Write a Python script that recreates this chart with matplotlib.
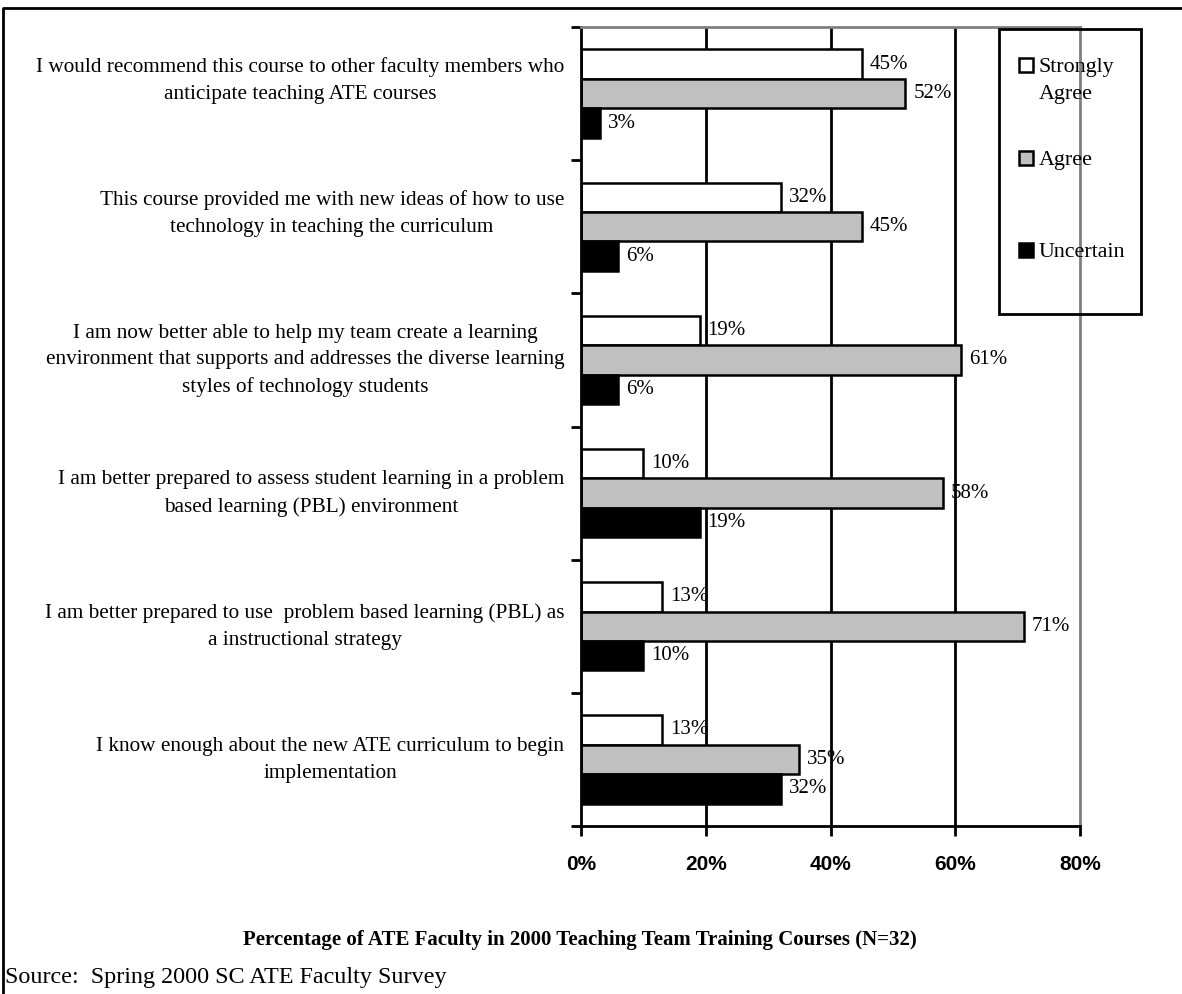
import numpy as np
import matplotlib.pyplot as plt
from matplotlib.patches import Rectangle
from matplotlib.lines import Line2D
from matplotlib.transforms import ScaledTranslation

# trailing newline on the first two keeps Excel's upward offset of those labels
statements = [
    "I would recommend this course to other faculty members who\nanticipate teaching ATE courses\n",
    "This course provided me with new ideas of how to use\ntechnology in teaching the curriculum\n",
    "I am now better able to help my team create a learning\nenvironment that supports and addresses the diverse learning\nstyles of technology students",
    "I am better prepared to assess student learning in a problem\nbased learning (PBL) environment",
    "I am better prepared to use  problem based learning (PBL) as\na instructional strategy",
    "I know enough about the new ATE curriculum to begin\nimplementation",
]
strongly_agree = [45, 32, 19, 10, 13, 13]
agree = [52, 45, 61, 58, 71, 35]
uncertain = [3, 6, 6, 19, 10, 32]
series_names = ["Strongly\nAgree", "Agree", "Uncertain"]
x_ticks = [0, 20, 40, 60, 80]

SERIF = "Liberation Serif"
SANS = "Liberation Sans"
W, H = 1182, 994


def fx(px):
    return px / W


def fy(px):
    return 1 - px / H


fig = plt.figure(figsize=(W / 100, H / 100), dpi=100)
ax = fig.add_axes([fx(581), fy(826), fx(1080 - 581), (826 - 27) / H])

n = len(statements)
y = np.arange(n)
h = 0.221
colors = ["white", "#c0c0c0", "black"]
series = [strongly_agree, agree, uncertain]

# vertical gridlines behind the bars
for t in x_ticks[1:-1]:
    ax.axvline(t, color="black", lw=2, zorder=0)

for k, (vals, col) in enumerate(zip(series, colors)):
    pos = y + (k - 1) * h
    ax.barh(pos, vals, height=h, color=col, edgecolor="black", lw=1.8, zorder=2)
    for v, p in zip(vals, pos):
        ax.annotate(f"{v}%", xy=(v, p), xytext=(8, 0), textcoords="offset pixels",
                    va="center", ha="left", fontsize=15, family=SERIF, zorder=3)

ax.set_xlim(0, 80)
ax.set_ylim(n - 0.5, -0.5)

for s in ["left", "bottom"]:
    ax.spines[s].set_color("black")
    ax.spines[s].set_linewidth(2)
for s in ["top", "right"]:
    ax.spines[s].set_color("#808080")
    ax.spines[s].set_linewidth(2)

ax.set_xticks(x_ticks)
ax.set_xticklabels([f"{t}%" for t in x_ticks], fontsize=15, fontweight="bold", family=SANS)
ax.tick_params(axis="x", direction="out", length=7, width=2, pad=14)

# tick marks between categories, labels at category centres
ax.set_yticks(np.arange(n + 1) - 0.5)
ax.set_yticklabels([])
ax.tick_params(axis="y", which="major", direction="out", length=7, width=2)
ax.set_yticks(y, minor=True)
ax.set_yticklabels(statements, minor=True, fontsize=15.3, family=SERIF,
                   multialignment="center", linespacing=1.55)
ax.tick_params(axis="y", which="minor", length=0, pad=12)
nudge = ScaledTranslation(0, 0.06, fig.dpi_scale_trans)
for lbl in ax.get_yticklabels(minor=True):
    lbl.set_transform(lbl.get_transform() + nudge)

# legend box
fig.patches.append(Rectangle((fx(999), fy(314)), fx(1141 - 999), (314 - 29) / H,
                             transform=fig.transFigure, fill=False, ec="black", lw=2))
legend_rows = [65, 158, 250]
for name, col, ry in zip(series_names, colors, legend_rows):
    fig.patches.append(Rectangle((fx(1019), fy(ry + 7)), fx(14), 14 / H,
                                 transform=fig.transFigure, fc=col, ec="black", lw=1.8))
    fig.text(fx(1039), fy(ry - 7), name, ha="left", va="top", fontsize=15.8,
             family=SERIF, linespacing=1.55)

fig.text(fx(580), fy(940), "Percentage of ATE Faculty in 2000 Teaching Team Training Courses (N=32)",
         ha="center", va="center", fontsize=15, fontweight="bold", family=SERIF)
fig.text(fx(5), fy(978), "Source:  Spring 2000 SC ATE Faculty Survey",
         ha="left", va="center", fontsize=17.4, family=SERIF)

# outer frame (left and top edges only)
fig.lines.append(Line2D([fx(3), fx(3), 1], [0, fy(8), fy(8)], transform=fig.transFigure,
                        color="black", lw=2))

fig.savefig("out.png", dpi=100, facecolor="white")
